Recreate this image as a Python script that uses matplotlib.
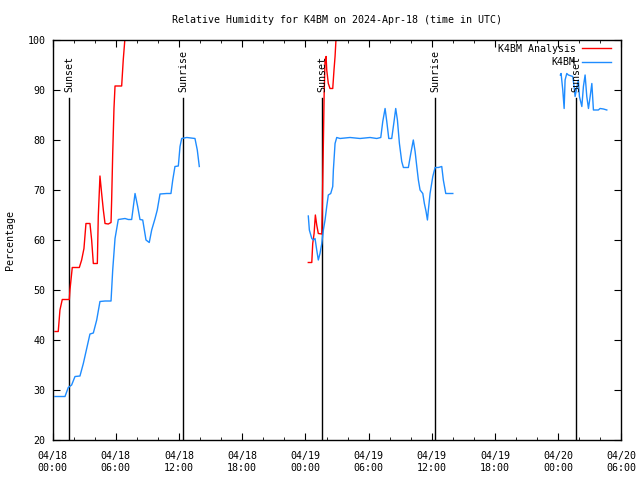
import matplotlib
matplotlib.use("Agg")
import numpy as np
import matplotlib.pyplot as plt
from matplotlib.ticker import MultipleLocator

# hours since 2024-04-18 00:00 UTC
blue_h1 = [0.22, 1.17, 1.48, 1.80, 2.12, 2.59, 2.91, 3.38, 3.54, 3.86, 4.18, 4.49, 4.97, 5.54,
           5.70, 5.92, 6.23, 6.87, 7.18, 7.50, 7.82, 8.07, 8.29, 8.55, 8.86, 9.17, 9.40, 9.72,
           9.93, 10.19, 10.83, 11.23, 11.40, 11.61, 11.93, 12.09, 12.25, 12.73, 13.51, 13.73, 13.92]
blue_v1 = [28.7, 28.7, 30.5, 31.0, 32.7, 32.8, 35.3, 39.7, 41.2, 41.4, 44.0, 47.7, 47.8, 47.8,
           54.0, 60.3, 64.1, 64.3, 64.1, 64.1, 69.3, 66.7, 64.1, 64.0, 60.0, 59.5, 62.0, 64.3,
           66.0, 69.2, 69.3, 69.3, 72.0, 74.7, 74.8, 78.7, 80.3, 80.5, 80.3, 78.0, 74.7]

red_h1 = [0.22, 0.53, 0.69, 0.91, 1.58, 1.64, 1.86, 2.53, 2.75, 2.97, 3.16, 3.54, 3.70, 3.86,
          4.24, 4.33, 4.49, 4.65, 4.81, 4.97, 5.28, 5.54, 5.60, 5.70, 5.82, 5.92, 6.55, 6.70, 7.0]
red_v1 = [41.7, 41.7, 46.0, 48.1, 48.1, 50.0, 54.5, 54.5, 56.0, 58.3, 63.3, 63.3, 60.0, 55.3,
          55.3, 64.7, 72.8, 69.3, 66.0, 63.3, 63.2, 63.5, 68.0, 77.3, 86.3, 90.8, 90.8, 96.0, 104.0]

blue_h2 = [24.27, 24.37, 24.60, 24.75, 24.91, 25.07, 25.22, 25.38, 25.55, 25.70, 25.86, 26.02,
           26.17, 26.40, 26.59, 26.65, 26.81, 26.97, 27.28, 28.23, 29.18, 30.13, 30.77, 31.15,
           31.34, 31.56, 31.72, 31.91, 32.19, 32.41, 32.57, 32.73, 32.92, 33.14, 33.30, 33.77,
           34.00, 34.24, 34.41, 34.57, 34.72, 34.88, 35.14, 35.29, 35.45, 35.58, 35.67, 35.83,
           36.09, 36.31, 36.62, 36.94, 37.09, 37.32, 37.99]
blue_v2 = [64.8, 62.0, 60.3, 60.0, 60.3, 58.0, 56.0, 57.3, 59.3, 62.0, 64.0, 66.7,
           69.0, 69.3, 70.7, 74.0, 79.3, 80.5, 80.3, 80.5, 80.3, 80.5, 80.3, 80.5,
           83.7, 86.3, 83.7, 80.3, 80.3, 83.7, 86.3, 84.0, 79.3, 75.7, 74.5, 74.5,
           77.3, 80.0, 77.7, 74.7, 72.0, 70.0, 69.3, 67.3, 65.7, 64.0, 66.0, 69.3,
           72.7, 74.5, 74.5, 74.7, 72.0, 69.3, 69.3]

red_h2 = [24.27, 24.60, 24.69, 24.82, 24.94, 25.07, 25.22, 25.55, 25.60, 25.70, 25.77, 25.86,
          25.96, 26.02, 26.17, 26.33, 26.59, 26.71, 26.81, 27.0]
red_v2 = [55.5, 55.5, 59.3, 61.3, 65.0, 63.0, 61.3, 61.2, 66.7, 79.3, 88.7, 96.0,
          96.7, 94.0, 91.3, 90.3, 90.3, 94.0, 96.7, 104.0]

blue_h3 = [48.20, 48.27, 48.43, 48.56, 48.65, 48.81, 48.96, 49.38, 49.50, 49.60, 49.91, 50.01,
           50.24, 50.39, 50.55, 50.71, 50.87, 51.03, 51.19, 51.34, 51.81, 51.97, 52.29, 52.61]
blue_v3 = [93.0, 93.3, 90.0, 86.3, 92.0, 93.3, 93.0, 92.7, 90.7, 88.7, 92.0, 88.7,
           86.7, 90.7, 93.0, 88.7, 86.3, 88.7, 91.3, 86.0, 86.0, 86.3, 86.2, 86.0]

sun_hours = [1.58, 12.4, 25.6, 36.3, 49.7]
sun_labels = ["Sunset", "Sunrise", "Sunset", "Sunrise", "Sunset"]

tick_labels = ["04/18\n00:00", "04/18\n06:00", "04/18\n12:00", "04/18\n18:00", "04/19\n00:00",
               "04/19\n06:00", "04/19\n12:00", "04/19\n18:00", "04/20\n00:00", "04/20\n06:00"]

RED = "#ff0000"
BLUE = "#1e8cff"
FONT = "DejaVu Sans Mono"
FS = 7.2


def main():
    plt.rcParams['font.family'] = FONT
    fig = plt.figure(figsize=(6.4, 4.8), dpi=100)
    ax = fig.add_axes([0.0823, 0.0833, 0.8887, 0.8334])

    # sunrise / sunset markers
    for h, lab in zip(sun_hours, sun_labels):
        ax.plot([h, h], [20, 88.3], color="black", lw=1.0)
        ax.text(h, 89.5, lab, rotation=90, ha="center", va="bottom", fontsize=FS)

    ax.plot(red_h1, red_v1, color=RED, lw=1.0, label="K4BM Analysis")
    ax.plot(red_h2, red_v2, color=RED, lw=1.0)
    ax.plot(blue_h1, blue_v1, color=BLUE, lw=1.0, label="K4BM")
    ax.plot(blue_h2, blue_v2, color=BLUE, lw=1.0)
    ax.plot(blue_h3, blue_v3, color=BLUE, lw=1.0)

    ax.set_xlim(0, 54)
    ax.set_ylim(20, 100)
    ax.set_xticks(np.arange(0, 55, 6))
    ax.set_xticklabels(tick_labels)
    ax.xaxis.set_minor_locator(MultipleLocator(2))
    ax.set_yticks(np.arange(20, 101, 10))
    ax.tick_params(which="both", direction="in", top=True, right=True, labelsize=FS)
    ax.tick_params(axis="x", pad=8)
    ax.tick_params(axis="y", pad=5)
    ax.tick_params(which="major", length=5)
    ax.tick_params(which="minor", length=2.5)
    for s in ax.spines.values():
        s.set_linewidth(1.0)

    ax.set_ylabel("Percentage", fontsize=FS, labelpad=9)
    ax.set_title("Relative Humidity for K4BM on 2024-Apr-18 (time in UTC)", fontsize=FS, pad=12)

    leg = ax.legend(loc="upper right", bbox_to_anchor=(0.981, 0.99), frameon=False,
                    markerfirst=False, fontsize=FS, handlelength=2.9, borderaxespad=0,
                    borderpad=0, labelspacing=0.35, handletextpad=0.6)
    for t in leg.get_texts():
        t.set_ha("right")

    fig.savefig("out.png", dpi=100)


if __name__ == "__main__":
    main()
